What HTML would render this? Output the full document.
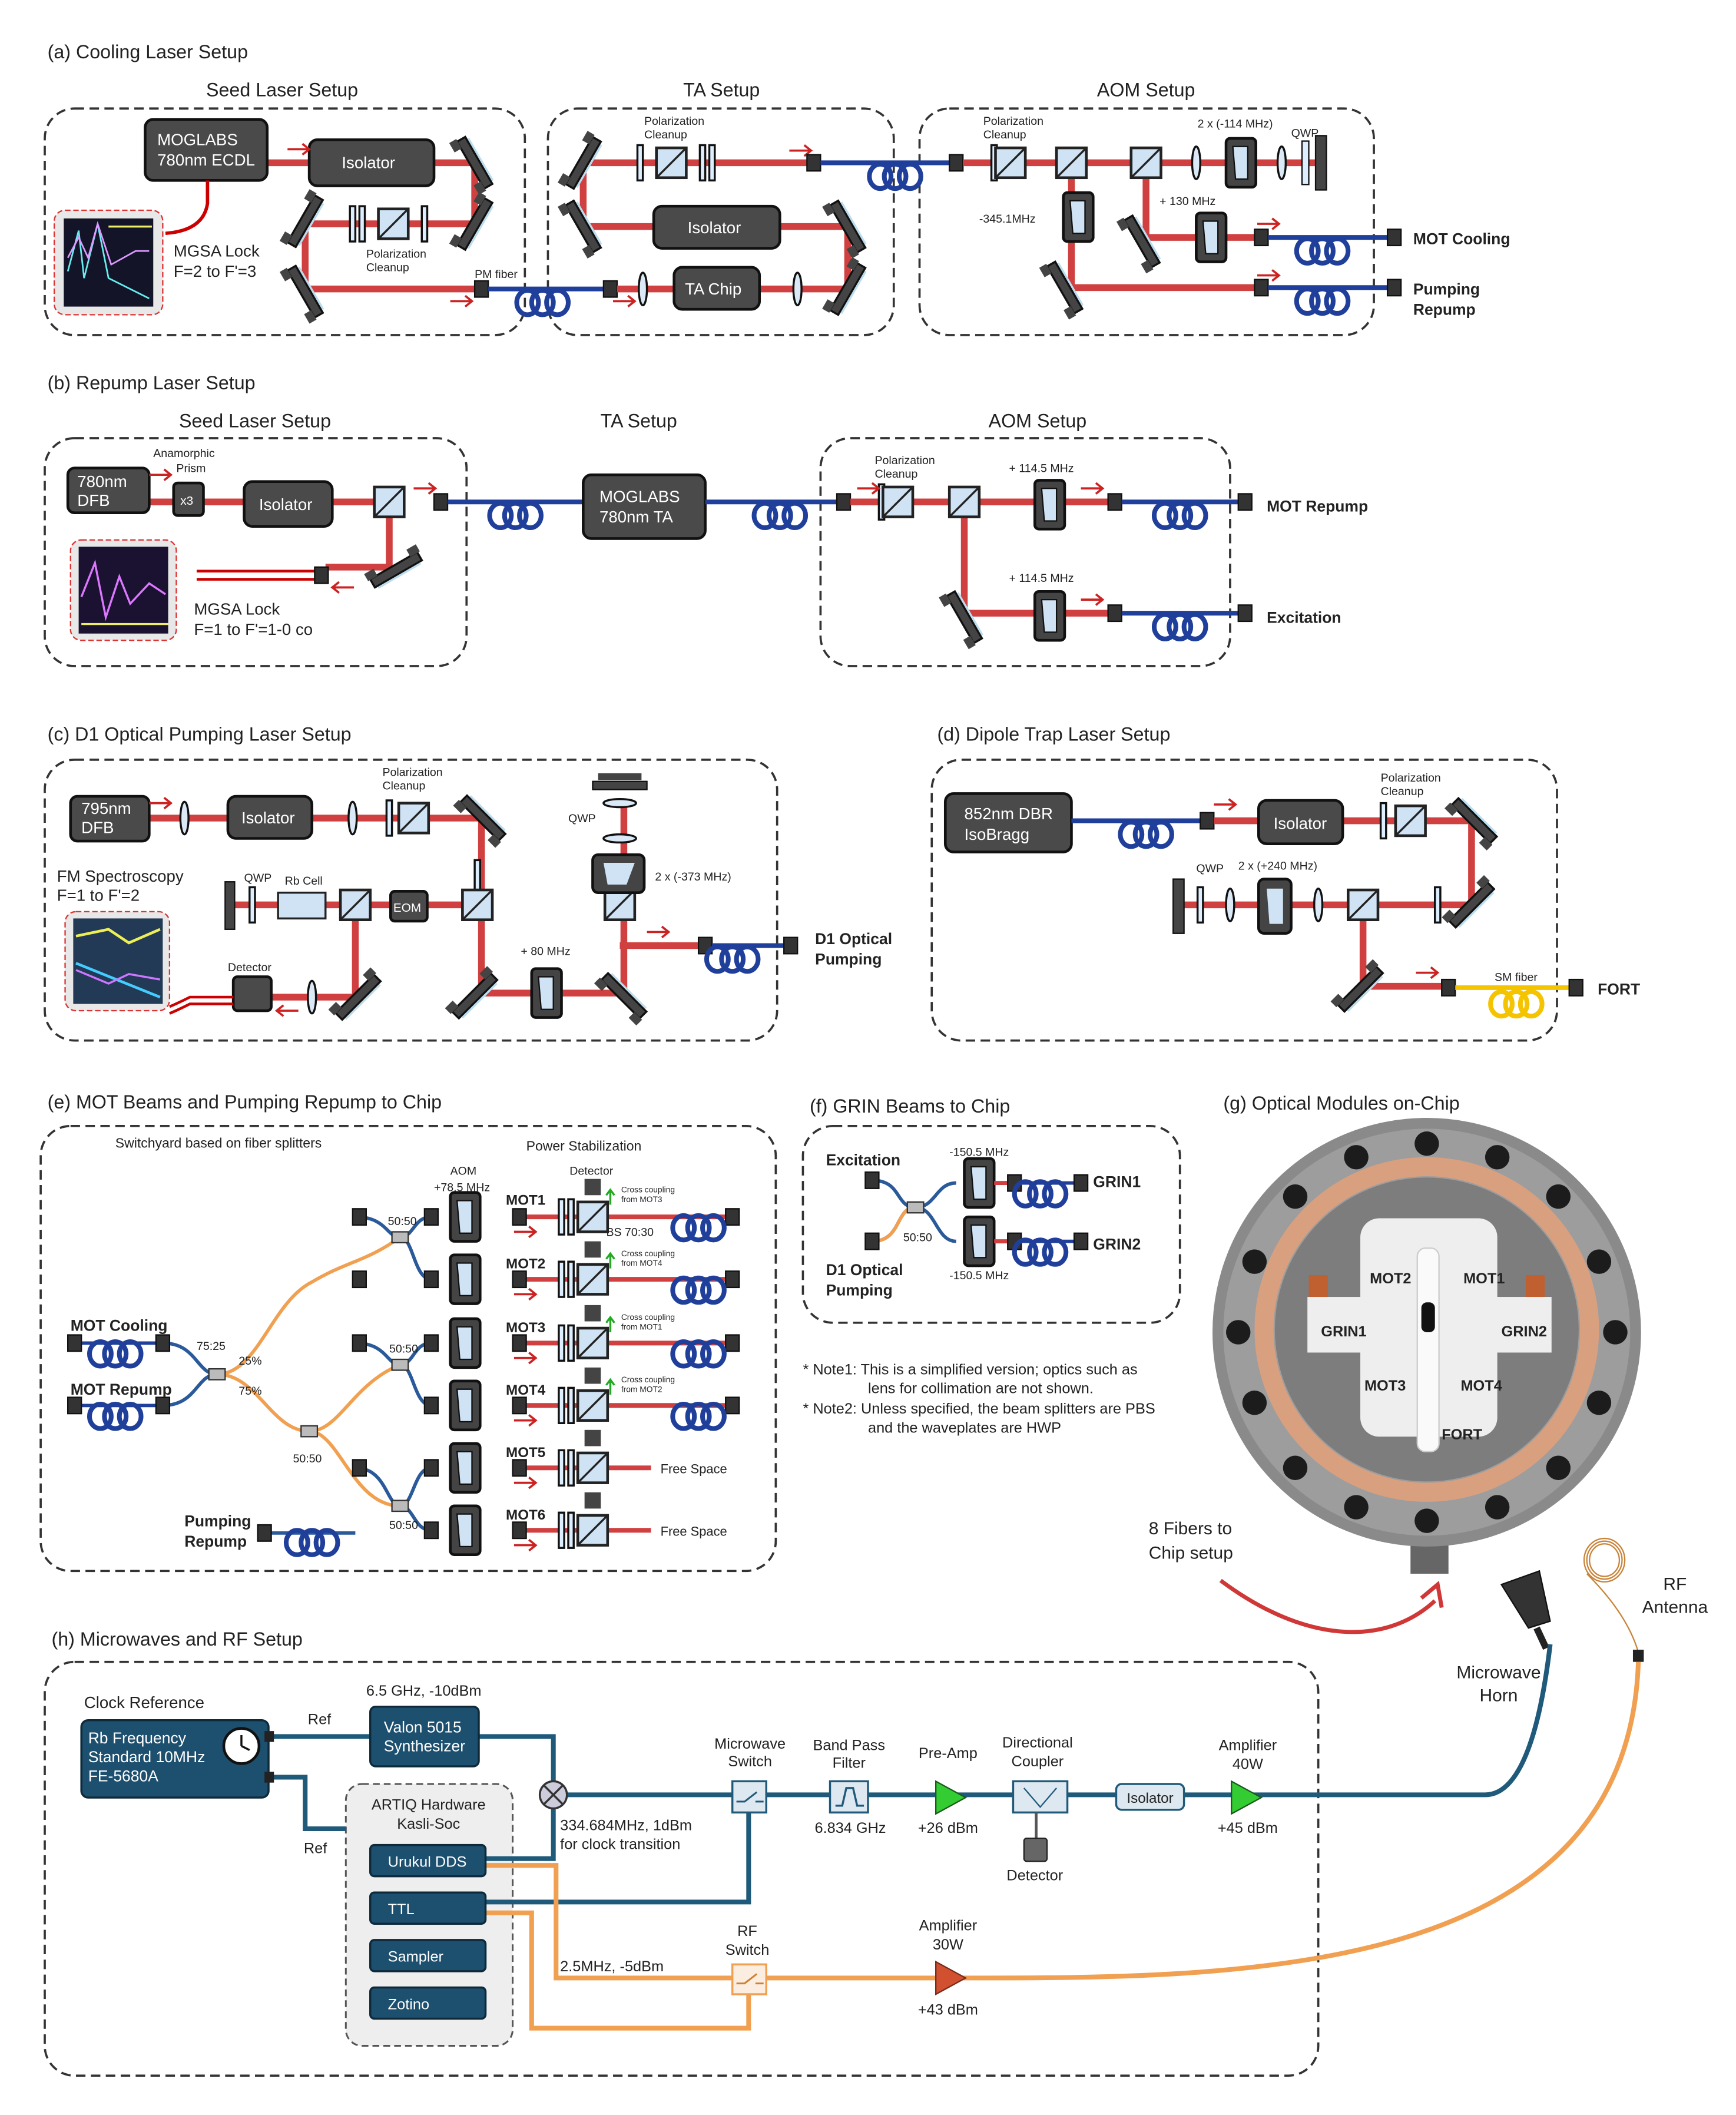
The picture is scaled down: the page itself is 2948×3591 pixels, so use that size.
<!DOCTYPE html>
<html><head><meta charset="utf-8"><style>
html,body{margin:0;padding:0;background:#fff}
svg{display:block}
text{font-family:"Liberation Sans",sans-serif;fill:#222}
.t{font-size:14px}.s{font-size:12px}.x{font-size:8.5px}.b{font-weight:bold;font-size:11.5px}
.w{fill:#fff;font-size:12px}
.box{fill:none;stroke:#333;stroke-width:1.6;stroke-dasharray:7 4}
.beam{fill:none;stroke:#d04040;stroke-width:5}
.fib{fill:none;stroke:#1f3f9a;stroke-width:3.5}
.dev{fill:#4a4a4a;stroke:#111;stroke-width:2}
.tl{fill:none;stroke:#1f5a7a;stroke-width:3.5}
.or{fill:none;stroke:#f0a050;stroke-width:3.5}
.tb{fill:#1d4f6e;stroke:#0e2a3a;stroke-width:1.5}
</style></head><body>
<svg width="2948" height="3591" viewBox="0 0 1280 1559" preserveAspectRatio="none" xmlns="http://www.w3.org/2000/svg">
<defs>
<g id="coil" fill="none" stroke="#1f3f9a" stroke-width="3.5"><ellipse cx="-11" cy="0" rx="8" ry="9"/><ellipse cx="0" cy="0" rx="8" ry="9"/><ellipse cx="11" cy="0" rx="8" ry="9"/></g>
<g id="ycoil" fill="none" stroke="#f5c400" stroke-width="3.5"><ellipse cx="-11" cy="0" rx="8" ry="9"/><ellipse cx="0" cy="0" rx="8" ry="9"/><ellipse cx="11" cy="0" rx="8" ry="9"/></g>
<g id="mir"><rect x="-3.5" y="-20" width="7" height="40" fill="#444" stroke="#111" stroke-width="1.5"/><rect x="-9" y="-22" width="6" height="8" fill="#444"/><rect x="-9" y="14" width="6" height="8" fill="#444"/><line x1="5" y1="-18" x2="5" y2="18" stroke="#bde" stroke-width="1.5"/></g>
<g id="con"><rect x="-5" y="-6" width="10" height="12" fill="#333" stroke="#111"/></g>
<g id="pbs"><rect x="-11" y="-11" width="22" height="22" fill="#cfe3f5" stroke="#222" stroke-width="2"/><line x1="-10" y1="10" x2="10" y2="-10" stroke="#222" stroke-width="1.5"/></g>
<g id="wp"><rect x="-2" y="-13" width="4" height="26" fill="#ddeeff" stroke="#111" stroke-width="1.5"/></g>
<g id="lens"><ellipse cx="0" cy="0" rx="3" ry="12" fill="#dbe9f6" stroke="#111" stroke-width="1.5"/></g>
<g id="aom"><rect x="-11" y="-18" width="22" height="36" rx="3" fill="#444" stroke="#111" stroke-width="2"/><path d="M-6,-12 L5,-12 L5,12 L-4,12 Z" fill="#cfe3f5" stroke="#111"/></g>
<g id="arr"><path d="M-8,0 H8 M3,-4 L8,0 L3,4" fill="none" stroke="#c22" stroke-width="1.6"/></g>
<g id="arl"><path d="M8,0 H-8 M-3,-4 L-8,0 L-3,4" fill="none" stroke="#c22" stroke-width="1.6"/></g>
<g id="spl"><rect x="-6" y="-4" width="12" height="8" fill="#bbb" stroke="#333"/></g>
</defs>

<!-- (a) -->
<text x="35" y="43" class="t">(a) Cooling Laser Setup</text>
<text x="208" y="71" class="t" text-anchor="middle">Seed Laser Setup</text>
<text x="532" y="71" class="t" text-anchor="middle">TA Setup</text>
<text x="845" y="71" class="t" text-anchor="middle">AOM Setup</text>
<rect x="33" y="80" width="354" height="167" rx="22" class="box"/>
<rect x="404" y="80" width="255" height="167" rx="22" class="box"/>
<rect x="678" y="80" width="335" height="167" rx="22" class="box"/>
<path class="beam" d="M197,120 H350 V165 H225 V213 H355"/>
<rect x="107" y="88" width="90" height="45" rx="6" class="dev"/>
<text x="116" y="107" class="w">MOGLABS</text><text x="116" y="122" class="w">780nm ECDL</text>
<rect x="228" y="103" width="92" height="34" rx="6" class="dev"/><text x="252" y="124" class="w">Isolator</text>
<use href="#mir" transform="translate(350,120) rotate(-30)"/><use href="#mir" transform="translate(350,165) rotate(30)"/>
<use href="#mir" transform="translate(225,163) rotate(30)"/><use href="#mir" transform="translate(225,215) rotate(-30)"/>
<use href="#wp" x="260" y="165"/><use href="#wp" x="267" y="165"/><use href="#pbs" x="290" y="165"/><use href="#wp" x="313" y="165"/>
<text x="270" y="190" class="x">Polarization</text><text x="270" y="200" class="x">Cleanup</text>
<path d="M153,133 V150 Q150,170 122,172" fill="none" stroke="#c00" stroke-width="2.5"/>
<rect x="40" y="155" width="80" height="77" rx="8" fill="#e8e8e8" stroke="#d33" stroke-dasharray="4 2"/>
<rect x="47" y="161" width="66" height="65" fill="#141428"/>
<path d="M50,200 L58,170 L62,205 L72,165 L80,205 L110,220" fill="none" stroke="#6ee" stroke-width="1.2"/>
<path d="M50,190 L58,175 L65,190 L72,165 L82,195 L100,185 L110,185" fill="none" stroke="#d9f" stroke-width="1.2"/>
<path d="M80,167 H112" stroke="#ee6" stroke-width="1.5"/>
<text x="128" y="189" class="s">MGSA Lock</text><text x="128" y="204" class="s">F=2 to F'=3</text>
<use href="#arr" x="220" y="110"/><use href="#arr" x="340" y="222"/>
<text x="350" y="205" class="x">PM fiber</text>
<use href="#con" x="355" y="213"/><path class="fib" d="M360,213 H447"/><use href="#coil" x="400" y="223"/><use href="#con" x="450" y="213"/>
<path class="beam" d="M455,213 H625 V167 H430 V120 H597"/>
<rect x="497" y="197" width="63" height="31" rx="6" class="dev"/><text x="505" y="217" class="w">TA Chip</text>
<rect x="482" y="152" width="93" height="31" rx="6" class="dev"/><text x="507" y="172" class="w">Isolator</text>
<use href="#lens" x="474" y="213"/><use href="#lens" x="588" y="213"/><use href="#arr" x="460" y="222"/>
<use href="#mir" transform="translate(430,120) rotate(30)"/><use href="#mir" transform="translate(430,167) rotate(-30)"/>
<use href="#mir" transform="translate(625,167) rotate(-30)"/><use href="#mir" transform="translate(625,213) rotate(30)"/>
<use href="#wp" x="472" y="120"/><use href="#pbs" x="495" y="120"/><use href="#wp" x="518" y="120"/><use href="#wp" x="525" y="120"/>
<text x="475" y="92" class="x">Polarization</text><text x="475" y="102" class="x">Cleanup</text>
<use href="#arr" x="590" y="111"/>
<use href="#con" x="600" y="120"/><path class="fib" d="M605,120 H700"/><use href="#coil" x="660" y="130"/><use href="#con" x="705" y="120"/>
<path class="beam" d="M710,120 H975 M790,120 V212 H930 M845,120 V175 H930"/>
<use href="#wp" x="733" y="120"/><use href="#pbs" x="745" y="120"/><use href="#pbs" x="790" y="120"/><use href="#pbs" x="845" y="120"/>
<use href="#lens" x="882" y="120"/><use href="#aom" x="915" y="120"/><use href="#lens" x="945" y="120"/>
<rect x="960" y="104" width="5" height="32" fill="#ddeeff" stroke="#111"/><rect x="970" y="100" width="8" height="40" fill="#444" stroke="#111"/>
<text x="725" y="92" class="x">Polarization</text><text x="725" y="102" class="x">Cleanup</text>
<text x="883" y="94" class="x">2 x (-114 MHz)</text><text x="952" y="101" class="x">QWP</text>
<use href="#aom" x="795" y="160"/><text x="722" y="164" class="x">-345.1MHz</text>
<use href="#aom" x="893" y="175"/><text x="855" y="151" class="x">+ 130 MHz</text>
<use href="#mir" transform="translate(842,178) rotate(-30)"/><use href="#mir" transform="translate(785,212) rotate(-30)"/>
<use href="#arr" x="935" y="165"/><use href="#arr" x="935" y="203"/>
<use href="#con" x="930" y="175"/><use href="#con" x="930" y="212"/>
<path class="fib" d="M935,175 H1025 M935,212 H1025"/><use href="#coil" x="975" y="185"/><use href="#coil" x="975" y="222"/>
<use href="#con" x="1028" y="175"/><use href="#con" x="1028" y="212"/>
<text x="1042" y="180" class="b">MOT Cooling</text><text x="1042" y="217" class="b">Pumping</text><text x="1042" y="232" class="b">Repump</text>

<!-- (b) -->
<text x="35" y="287" class="t">(b) Repump Laser Setup</text>
<text x="188" y="315" class="t" text-anchor="middle">Seed Laser Setup</text>
<text x="471" y="315" class="t" text-anchor="middle">TA Setup</text>
<text x="765" y="315" class="t" text-anchor="middle">AOM Setup</text>
<rect x="33" y="323" width="311" height="168" rx="22" class="box"/>
<rect x="605" y="323" width="302" height="168" rx="22" class="box"/>
<path class="beam" d="M110,370 H287 V418 H240"/>
<path d="M145,421 H232 M145,427 H232" stroke="#c00" stroke-width="2"/>
<rect x="50" y="345" width="60" height="33" rx="5" class="dev"/><text x="57" y="359" class="w">780nm</text><text x="57" y="373" class="w">DFB</text>
<rect x="128" y="356" width="22" height="24" rx="3" class="dev"/><text x="133" y="372" class="w" style="font-size:9px">x3</text>
<text x="113" y="337" class="x">Anamorphic</text><text x="130" y="348" class="x">Prism</text>
<rect x="180" y="355" width="65" height="33" rx="6" class="dev"/><text x="191" y="376" class="w">Isolator</text>
<use href="#pbs" x="287" y="370"/><use href="#mir" transform="translate(292,420) rotate(60)"/>
<use href="#con" x="237" y="424"/><use href="#arl" x="253" y="433"/><use href="#arr" x="118" y="350"/><use href="#arr" x="313" y="360"/>
<rect x="52" y="398" width="78" height="74" rx="8" fill="#e8e8e8" stroke="#d33" stroke-dasharray="4 2"/>
<rect x="58" y="403" width="66" height="64" fill="#1a1230"/>
<path d="M60,440 L70,415 L78,455 L88,425 L96,445 L110,430 L122,438" fill="none" stroke="#d7f" stroke-width="1.5"/>
<path d="M60,460 H124" stroke="#ee6" stroke-width="1.5"/>
<text x="143" y="453" class="s">MGSA Lock</text><text x="143" y="468" class="s">F=1 to F'=1-0 co</text>
<use href="#con" x="325" y="370"/><path class="fib" d="M330,370 H430"/><use href="#coil" x="380" y="380"/>
<rect x="430" y="350" width="90" height="47" rx="6" class="dev"/><text x="442" y="370" class="w">MOGLABS</text><text x="442" y="385" class="w">780nm TA</text>
<path class="fib" d="M520,370 H618"/><use href="#coil" x="575" y="380"/><use href="#con" x="622" y="370"/>
<path class="beam" d="M627,370 H820 M711,370 V452 H820"/>
<use href="#wp" x="650" y="370"/><use href="#pbs" x="662" y="370"/><use href="#pbs" x="711" y="370"/>
<text x="645" y="342" class="x">Polarization</text><text x="645" y="352" class="x">Cleanup</text>
<use href="#aom" x="774" y="372"/><use href="#aom" x="774" y="454"/>
<text x="744" y="348" class="x">+ 114.5 MHz</text><text x="744" y="429" class="x">+ 114.5 MHz</text>
<use href="#mir" transform="translate(711,455) rotate(-30)"/>
<use href="#arr" x="640" y="360"/><use href="#arr" x="805" y="360"/><use href="#arr" x="805" y="442"/>
<use href="#con" x="822" y="370"/><use href="#con" x="822" y="452"/>
<path class="fib" d="M827,370 H915 M827,452 H915"/><use href="#coil" x="870" y="380"/><use href="#coil" x="870" y="462"/>
<use href="#con" x="918" y="370"/><use href="#con" x="918" y="452"/>
<text x="934" y="377" class="b">MOT Repump</text><text x="934" y="459" class="b">Excitation</text>

<!-- (c) -->
<text x="35" y="546" class="t">(c) D1 Optical Pumping Laser Setup</text>
<rect x="33" y="560" width="540" height="207" rx="22" class="box"/>
<path class="beam" d="M110,603 H355 V732 H460 V590 M457,697 H520 M352,667 H168 M262,667 V735 H200"/>
<rect x="52" y="587" width="58" height="33" rx="5" class="dev"/><text x="60" y="600" class="w">795nm</text><text x="60" y="614" class="w">DFB</text>
<use href="#lens" x="136" y="603"/><rect x="168" y="587" width="62" height="31" rx="6" class="dev"/><text x="178" y="607" class="w">Isolator</text>
<use href="#lens" x="260" y="603"/><use href="#wp" x="287" y="603"/><use href="#pbs" x="305" y="603"/>
<text x="282" y="572" class="x">Polarization</text><text x="282" y="582" class="x">Cleanup</text>
<use href="#mir" transform="translate(356,603) rotate(-45)"/><use href="#wp" x="352" y="647"/><use href="#pbs" x="352" y="667"/>
<use href="#mir" transform="translate(350,734) rotate(45)"/><use href="#aom" x="403" y="732"/><text x="384" y="704" class="x">+ 80 MHz</text>
<use href="#mir" transform="translate(460,734) rotate(-45)"/><use href="#pbs" x="457" y="667"/>
<rect x="437" y="630" width="38" height="28" rx="4" fill="#444" stroke="#111" stroke-width="2"/><path d="M445,636 H468 L462,652 H448 Z" fill="#cfe3f5"/>
<text x="483" y="649" class="x">2 x (-373 MHz)</text>
<ellipse cx="457" cy="618" rx="12" ry="3" fill="#dbe9f6" stroke="#111" stroke-width="1.5"/>
<ellipse cx="457" cy="592" rx="12" ry="3" fill="#dbe9f6" stroke="#111" stroke-width="1.5"/>
<rect x="437" y="576" width="40" height="6" fill="#444" stroke="#111"/><rect x="441" y="570" width="32" height="5" fill="#444"/>
<text x="419" y="606" class="x">QWP</text>
<use href="#arr" x="485" y="687"/><use href="#con" x="520" y="697"/><path class="fib" d="M525,697 H580"/><use href="#coil" x="540" y="707"/><use href="#con" x="583" y="697"/>
<text x="601" y="696" class="b">D1 Optical</text><text x="601" y="711" class="b">Pumping</text>
<rect x="288" y="657" width="27" height="22" rx="3" class="dev"/><text x="290" y="672" class="w" style="font-size:9px">EOM</text>
<use href="#pbs" x="262" y="667"/><rect x="205" y="658" width="35" height="19" fill="#cfe3f5" stroke="#222" stroke-width="1.5"/>
<use href="#wp" x="186" y="667"/><rect x="166" y="650" width="7" height="35" fill="#444" stroke="#111"/>
<text x="210" y="652" class="x">Rb Cell</text><text x="180" y="650" class="x">QWP</text>
<use href="#mir" transform="translate(264,735) rotate(45)"/><use href="#lens" x="230" y="735"/>
<rect x="172" y="720" width="28" height="25" rx="3" class="dev"/><text x="168" y="716" class="x">Detector</text><use href="#arl" x="212" y="745"/>
<path d="M172,735 H140 Q130,740 125,742 M172,740 H140 Q130,745 125,747" fill="none" stroke="#c00" stroke-width="2"/>
<text x="42" y="650" class="s">FM Spectroscopy</text><text x="42" y="664" class="s">F=1 to F'=2</text>
<rect x="48" y="672" width="77" height="73" rx="8" fill="#e8e8e8" stroke="#d33" stroke-dasharray="4 2"/>
<rect x="54" y="677" width="66" height="63" fill="#223a55"/>
<path d="M56,690 L80,685 L95,695 L118,685" fill="none" stroke="#ee5" stroke-width="2"/>
<path d="M56,710 L118,735" stroke="#4cf" stroke-width="2"/><path d="M56,715 L80,725 L95,718 L118,722" fill="none" stroke="#c7f" stroke-width="1.5"/>
<use href="#arr" x="118" y="592"/>

<!-- (d) -->
<text x="691" y="546" class="t">(d) Dipole Trap Laser Setup</text>
<rect x="687" y="560" width="461" height="207" rx="22" class="box"/>
<rect x="697" y="585" width="93" height="43" rx="6" class="dev"/><text x="711" y="604" class="w">852nm DBR</text><text x="711" y="619" class="w">IsoBragg</text>
<path class="fib" d="M790,605 H887"/><use href="#coil" x="845" y="615"/><use href="#con" x="890" y="605"/>
<path class="beam" d="M895,605 H1085 V667 H870 M1005,667 V727 H1065"/>
<rect x="928" y="590" width="62" height="32" rx="6" class="dev"/><text x="939" y="611" class="w">Isolator</text>
<use href="#arr" x="903" y="593"/><use href="#wp" x="1020" y="605"/><use href="#pbs" x="1040" y="605"/>
<text x="1018" y="576" class="x">Polarization</text><text x="1018" y="586" class="x">Cleanup</text>
<use href="#mir" transform="translate(1087,605) rotate(-45)"/><use href="#mir" transform="translate(1085,667) rotate(45)"/>
<use href="#wp" x="1060" y="667"/><use href="#pbs" x="1005" y="667"/><use href="#lens" x="972" y="667"/>
<rect x="928" y="648" width="24" height="40" rx="4" fill="#444" stroke="#111" stroke-width="2"/><path d="M934,655 H946 V681 H936 Z" fill="#cfe3f5"/>
<use href="#lens" x="907" y="667"/><use href="#wp" x="885" y="667"/><rect x="865" y="648" width="8" height="40" fill="#444" stroke="#111"/>
<text x="882" y="643" class="x">QWP</text><text x="913" y="641" class="x">2 x (+240 MHz)</text>
<use href="#mir" transform="translate(1003,729) rotate(45)"/><use href="#arr" x="1052" y="717"/>
<use href="#con" x="1068" y="728"/><path d="M1073,728 H1160" fill="none" stroke="#f5c400" stroke-width="3.5"/><use href="#ycoil" x="1118" y="740"/><use href="#con" x="1162" y="728"/>
<text x="1102" y="723" class="x">SM fiber</text><text x="1178" y="733" class="b">FORT</text>

<!-- (e) -->
<text x="35" y="817" class="t">(e) MOT Beams and Pumping Repump to Chip</text>
<rect x="30" y="830" width="542" height="328" rx="22" class="box"/>
<text x="85" y="846" class="x" style="font-size:10px">Switchyard based on fiber splitters</text>
<text x="388" y="848" class="x" style="font-size:10px">Power Stabilization</text>
<text x="332" y="866" class="x">AOM</text><text x="320" y="878" class="x">+78.5 MHz</text><text x="420" y="866" class="x">Detector</text>
<g>
<path class="beam" d="M388,897 H545 M388,943 H545 M388,990 H545 M388,1036 H545 M388,1082 H545 M388,1128 H545" style="stroke-width:3.5"/>
</g>
<g id="rowS">
<use href="#aom" x="343" y="897"/><use href="#con" x="383" y="897"/><use href="#wp" x="414" y="897"/><use href="#wp" x="421" y="897"/><use href="#pbs" x="437" y="897"/><rect x="431" y="869" width="12" height="12" fill="#444"/><use href="#arr" x="387" y="908"/>
<use href="#con" x="540" y="897"/><use href="#coil" x="515" y="905"/>
</g>
<use href="#rowS" y="46"/><use href="#rowS" y="93"/><use href="#rowS" y="139"/>
<use href="#aom" x="343" y="1082"/><use href="#con" x="383" y="1082"/><use href="#wp" x="414" y="1082"/><use href="#wp" x="421" y="1082"/><use href="#pbs" x="437" y="1082"/><rect x="431" y="1054" width="12" height="12" fill="#444"/><use href="#arr" x="387" y="1093"/>
<use href="#aom" x="343" y="1128"/><use href="#con" x="383" y="1128"/><use href="#wp" x="414" y="1128"/><use href="#wp" x="421" y="1128"/><use href="#pbs" x="437" y="1128"/><rect x="431" y="1100" width="12" height="12" fill="#444"/><use href="#arr" x="387" y="1139"/>
<rect x="480" y="1070" width="70" height="20" fill="#fff"/><rect x="480" y="1116" width="70" height="20" fill="#fff"/>
<text x="487" y="1086" class="x" style="font-size:9.5px">Free Space</text><text x="487" y="1132" class="x" style="font-size:9.5px">Free Space</text>
<text x="373" y="888" class="b" style="font-size:10.5px">MOT1</text><text x="373" y="935" class="b" style="font-size:10.5px">MOT2</text>
<text x="373" y="982" class="b" style="font-size:10.5px">MOT3</text><text x="373" y="1028" class="b" style="font-size:10.5px">MOT4</text>
<text x="373" y="1074" class="b" style="font-size:10.5px">MOT5</text><text x="373" y="1120" class="b" style="font-size:10.5px">MOT6</text>
<g style="font-size:6px"><text x="458" y="879" style="font-size:6px">Cross coupling</text><text x="458" y="886" style="font-size:6px">from MOT3</text>
<text x="458" y="926" style="font-size:6px">Cross coupling</text><text x="458" y="933" style="font-size:6px">from MOT4</text>
<text x="458" y="973" style="font-size:6px">Cross coupling</text><text x="458" y="980" style="font-size:6px">from MOT1</text>
<text x="458" y="1019" style="font-size:6px">Cross coupling</text><text x="458" y="1026" style="font-size:6px">from MOT2</text></g>
<path d="M450,888 V878 M447,881 L450,877 L453,881 M450,935 V925 M447,928 L450,924 L453,928 M450,982 V972 M447,975 L450,971 L453,975 M450,1028 V1018 M447,1021 L450,1017 L453,1021" stroke="#2a2" fill="none" stroke-width="1.5"/>
<text x="447" y="911" class="x">BS 70:30</text>
<!-- fibers -->
<path class="fib" d="M262,897 C285,897 285,912 295,912 M295,912 C305,912 305,897 318,897 M295,912 C305,912 305,943 318,943" style="stroke:#2a5a9a;stroke-width:2.5"/>
<path class="fib" d="M262,990 C285,990 285,1006 295,1006 M295,1006 C305,1006 305,990 318,990 M295,1006 C305,1006 305,1036 318,1036" style="stroke:#2a5a9a;stroke-width:2.5"/>
<path class="fib" d="M262,1082 C285,1082 285,1110 295,1110 M295,1110 C305,1110 305,1082 318,1082 M295,1110 C305,1110 305,1128 318,1128 M195,1130 H262" style="stroke:#2a5a9a;stroke-width:2.5"/>
<path class="fib" d="M120,990 C145,990 145,1013 160,1013 M120,1036 C145,1036 145,1013 160,1013" style="stroke:#2a5a9a;stroke-width:2.5"/>
<path class="or" style="stroke-width:2.5" d="M160,1013 C190,1013 200,960 230,945 C255,930 270,930 295,912 M160,1013 C190,1013 200,1055 228,1055 M228,1055 C250,1055 260,1020 295,1006 M228,1055 C250,1055 260,1110 295,1110"/>
<use href="#spl" x="295" y="912"/><use href="#spl" x="295" y="1006"/><use href="#spl" x="295" y="1110"/><use href="#spl" x="160" y="1013"/><use href="#spl" x="228" y="1055"/>
<use href="#con" x="265" y="897"/><use href="#con" x="265" y="990"/><use href="#con" x="265" y="1082"/><use href="#con" x="265" y="943"/>
<use href="#con" x="318" y="897"/><use href="#con" x="318" y="943"/><use href="#con" x="318" y="990"/><use href="#con" x="318" y="1036"/><use href="#con" x="318" y="1082"/><use href="#con" x="318" y="1128"/>
<text x="286" y="903" class="x">50:50</text><text x="287" y="997" class="x">50:50</text><text x="287" y="1127" class="x">50:50</text><text x="216" y="1078" class="x">50:50</text>
<text x="145" y="995" class="x">75:25</text><text x="176" y="1006" class="x">25%</text><text x="176" y="1028" class="x">75%</text>
<text x="52" y="981" class="b">MOT Cooling</text><text x="52" y="1028" class="b">MOT Repump</text>
<path class="fib" d="M55,990 H120 M55,1036 H120" style="stroke-width:2.5"/><use href="#coil" x="85" y="998"/><use href="#coil" x="85" y="1044"/>
<use href="#con" x="55" y="990"/><use href="#con" x="55" y="1036"/><use href="#con" x="120" y="990"/><use href="#con" x="120" y="1036"/>
<text x="136" y="1125" class="b">Pumping</text><text x="136" y="1140" class="b">Repump</text>
<use href="#coil" x="230" y="1137"/><use href="#con" x="195" y="1130"/>

<!-- (f) -->
<text x="597" y="820" class="t">(f) GRIN Beams to Chip</text>
<rect x="592" y="830" width="278" height="145" rx="22" class="box"/>
<text x="609" y="859" class="b">Excitation</text><text x="609" y="940" class="b">D1 Optical</text><text x="609" y="955" class="b">Pumping</text>
<path d="M643,870 C665,870 660,890 675,890 M643,915 C665,915 660,890 675,890" fill="none" stroke="#2a5a9a" stroke-width="2.5"/>
<path d="M643,915 C665,915 660,890 675,890" fill="none" stroke="#f0a050" stroke-width="2.5"/>
<path d="M675,890 C690,890 690,872 705,872 M675,890 C690,890 690,915 705,915" fill="none" stroke="#2a5a9a" stroke-width="2.5"/>
<use href="#spl" x="675" y="890"/><use href="#con" x="643" y="870"/><use href="#con" x="643" y="915"/>
<text x="666" y="915" class="x">50:50</text>
<use href="#aom" x="722" y="872"/><use href="#aom" x="722" y="915"/>
<path class="beam" d="M733,872 H745 M733,915 H745" style="stroke-width:3"/>
<use href="#con" x="748" y="872"/><use href="#con" x="748" y="915"/>
<path class="fib" d="M753,872 H795 M753,915 H795" style="stroke-width:2.5"/><use href="#coil" x="767" y="880"/><use href="#coil" x="767" y="923"/>
<use href="#con" x="797" y="872"/><use href="#con" x="797" y="915"/>
<text x="700" y="852" class="x">-150.5 MHz</text><text x="700" y="943" class="x">-150.5 MHz</text>
<text x="806" y="875" class="b">GRIN1</text><text x="806" y="921" class="b">GRIN2</text>
<text x="592" y="1013" class="s" style="font-size:11px">* Note1: This is a simplified version; optics such as</text>
<text x="640" y="1027" class="s" style="font-size:11px">lens for collimation are not shown.</text>
<text x="592" y="1042" class="s" style="font-size:11px">* Note2: Unless specified, the beam splitters are PBS</text>
<text x="640" y="1056" class="s" style="font-size:11px">and the waveplates are HWP</text>

<!-- (g) -->
<text x="902" y="818" class="t">(g) Optical Modules on-Chip</text>
<rect x="1040" y="1120" width="28" height="40" fill="#666"/>
<circle cx="1052" cy="982" r="158" fill="#8a8a8a"/>
<circle cx="1052" cy="982" r="150" fill="#9d9d9d"/>
<g fill="#1c1c1c">
<circle cx="1052" cy="843" r="9"/><circle cx="1052" cy="1121" r="9"/><circle cx="913" cy="982" r="9"/><circle cx="1191" cy="982" r="9"/>
<circle cx="1000" cy="853" r="9"/><circle cx="1104" cy="853" r="9"/><circle cx="1000" cy="1111" r="9"/><circle cx="1104" cy="1111" r="9"/>
<circle cx="955" cy="882" r="9"/><circle cx="1149" cy="882" r="9"/><circle cx="955" cy="1082" r="9"/><circle cx="1149" cy="1082" r="9"/>
<circle cx="925" cy="930" r="9"/><circle cx="1179" cy="930" r="9"/><circle cx="925" cy="1034" r="9"/><circle cx="1179" cy="1034" r="9"/>
</g>
<circle cx="1052" cy="980" r="120" fill="none" stroke="#d9a080" stroke-width="14"/>
<circle cx="1052" cy="980" r="112" fill="#7d7d7d"/>
<rect x="965" y="940" width="14" height="55" fill="#c06030"/><rect x="1125" y="940" width="14" height="55" fill="#c06030"/>
<rect x="1003" y="898" width="101" height="161" rx="14" fill="#eee"/>
<rect x="964" y="956" width="180" height="41" fill="#eee"/>
<rect x="1045" y="920" width="16" height="150" rx="6" fill="#fafafa" stroke="#ccc"/>
<rect x="1048" y="960" width="10" height="22" rx="4" fill="#111"/>
<g font-weight="bold" font-size="11px"><text x="1010" y="946">MOT2</text><text x="1079" y="946">MOT1</text><text x="974" y="985">GRIN1</text><text x="1107" y="985">GRIN2</text>
<text x="1006" y="1025">MOT3</text><text x="1077" y="1025">MOT4</text><text x="1063" y="1061">FORT</text></g>
<text x="847" y="1131" class="s" style="font-size:13px">8 Fibers to</text><text x="847" y="1149" class="s" style="font-size:13px">Chip setup</text>
<path d="M900,1165 C960,1210 1020,1215 1058,1180" fill="none" stroke="#d03838" stroke-width="3"/>
<path d="M1048,1178 L1060,1168 L1063,1185" fill="none" stroke="#d03838" stroke-width="3"/>
<path d="M1107,1168 L1135,1158 L1143,1195 L1127,1200 Z" fill="#333" stroke="#111"/>
<path d="M1133,1200 L1140,1215" stroke="#222" stroke-width="5"/>
<g fill="none" stroke="#c8843a" stroke-width="1"><ellipse cx="1183" cy="1150" rx="15" ry="16"/><ellipse cx="1183" cy="1150" rx="13" ry="14"/><ellipse cx="1183" cy="1150" rx="11" ry="12"/><path d="M1170,1160 Q1200,1190 1208,1218"/></g>
<rect x="1204" y="1216" width="8" height="9" fill="#222"/>
<text x="1235" y="1172" class="s" style="font-size:13px" text-anchor="middle">RF</text><text x="1235" y="1189" class="s" style="font-size:13px" text-anchor="middle">Antenna</text>
<text x="1105" y="1237" class="s" style="font-size:13px" text-anchor="middle">Microwave</text><text x="1105" y="1254" class="s" style="font-size:13px" text-anchor="middle">Horn</text>

<!-- (h) -->
<text x="38" y="1213" class="t">(h) Microwaves and RF Setup</text>
<rect x="33" y="1225" width="939" height="305" rx="22" class="box"/>
<rect x="255" y="1315" width="123" height="193" rx="12" fill="#eee" stroke="#555" stroke-dasharray="5 3" stroke-width="1.3"/>
<path class="tl" d="M198,1280 H273 M198,1310 H225 V1348 H255 M353,1280 H408 V1313 M358,1370 H408 V1333 M418,1323 H1095 C1120,1323 1135,1280 1143,1212 M358,1402 H552 V1336"/>
<path class="or" d="M358,1375 H410 V1458 H690 C900,1458 1200,1465 1208,1225 M358,1410 H392 V1495 H552 V1470"/>
<text x="62" y="1259" class="s">Clock Reference</text>
<rect x="60" y="1268" width="138" height="57" rx="5" class="tb"/>
<text x="65" y="1285" class="w" style="font-size:11.5px">Rb Frequency</text><text x="65" y="1299" class="w" style="font-size:11.5px">Standard 10MHz</text><text x="65" y="1313" class="w" style="font-size:11.5px">FE-5680A</text>
<circle cx="178" cy="1287" r="13" fill="#fff" stroke="#111" stroke-width="2"/><path d="M178,1287 V1279 M178,1287 L184,1290" stroke="#111" stroke-width="1.5"/>
<rect x="195" y="1276" width="7" height="8" fill="#222"/><rect x="195" y="1306" width="7" height="8" fill="#222"/>
<text x="270" y="1250" class="s" style="font-size:11px">6.5 GHz, -10dBm</text>
<text x="227" y="1271" class="s" style="font-size:11px">Ref</text><text x="224" y="1366" class="s" style="font-size:11px">Ref</text>
<rect x="273" y="1258" width="80" height="44" rx="4" class="tb"/><text x="283" y="1277" class="w" style="font-size:11.5px">Valon 5015</text><text x="283" y="1291" class="w" style="font-size:11.5px">Synthesizer</text>
<text x="316" y="1334" class="s" style="font-size:11px" text-anchor="middle">ARTIQ Hardware</text><text x="316" y="1348" class="s" style="font-size:11px" text-anchor="middle">Kasli-Soc</text>
<rect x="273" y="1360" width="85" height="23" rx="3" class="tb"/><text x="286" y="1376" class="w" style="font-size:11px">Urukul DDS</text>
<rect x="273" y="1395" width="85" height="23" rx="3" class="tb"/><text x="286" y="1411" class="w" style="font-size:11px">TTL</text>
<rect x="273" y="1430" width="85" height="23" rx="3" class="tb"/><text x="286" y="1446" class="w" style="font-size:11px">Sampler</text>
<rect x="273" y="1465" width="85" height="23" rx="3" class="tb"/><text x="286" y="1481" class="w" style="font-size:11px">Zotino</text>
<circle cx="408" cy="1323" r="10" fill="#ccd" stroke="#333" stroke-width="1.5"/><path d="M401,1316 L415,1330 M415,1316 L401,1330" stroke="#333" stroke-width="1.5"/>
<text x="413" y="1349" class="s" style="font-size:11px">334.684MHz, 1dBm</text><text x="413" y="1363" class="s" style="font-size:11px">for clock transition</text>
<text x="413" y="1453" class="s" style="font-size:11px">2.5MHz, -5dBm</text>
<rect x="540" y="1313" width="25" height="23" fill="#dde8f0" stroke="#1f5a7a" stroke-width="1.5"/><path d="M543,1328 H549 L558,1321 M557,1328 H563" stroke="#1f5a7a" fill="none" stroke-width="1.3"/>
<text x="553" y="1289" class="s" style="font-size:11px" text-anchor="middle">Microwave</text><text x="553" y="1302" class="s" style="font-size:11px" text-anchor="middle">Switch</text>
<rect x="612" y="1313" width="28" height="23" fill="#dde8f0" stroke="#1f5a7a" stroke-width="1.5"/><path d="M616,1331 H621 L624,1318 H629 L632,1331 H637" stroke="#1f5a7a" fill="none" stroke-width="1.5"/>
<text x="626" y="1290" class="s" style="font-size:11px" text-anchor="middle">Band Pass</text><text x="626" y="1303" class="s" style="font-size:11px" text-anchor="middle">Filter</text>
<text x="627" y="1351" class="s" style="font-size:11px" text-anchor="middle">6.834 GHz</text>
<path d="M690,1313 L712,1325 L690,1337 Z" fill="#3c3" stroke="#1a5a1a"/>
<text x="699" y="1296" class="s" style="font-size:11px" text-anchor="middle">Pre-Amp</text><text x="699" y="1351" class="s" style="font-size:11px" text-anchor="middle">+26 dBm</text>
<rect x="747" y="1313" width="40" height="23" fill="#dde8f0" stroke="#1f5a7a" stroke-width="1.5"/><path d="M755,1318 L767,1332 L779,1318" stroke="#1f5a7a" fill="none"/>
<path d="M764,1336 V1355" stroke="#555" stroke-width="2"/><rect x="755" y="1355" width="17" height="17" rx="2" fill="#666" stroke="#222"/>
<text x="765" y="1288" class="s" style="font-size:11px" text-anchor="middle">Directional</text><text x="765" y="1302" class="s" style="font-size:11px" text-anchor="middle">Coupler</text>
<text x="763" y="1386" class="s" style="font-size:11px" text-anchor="middle">Detector</text>
<rect x="823" y="1315" width="50" height="19" rx="4" fill="#dde8f0" stroke="#1f5a7a" stroke-width="1.5"/><text x="848" y="1329" class="s" style="font-size:10.5px" text-anchor="middle">Isolator</text>
<path d="M908,1313 L930,1325 L908,1337 Z" fill="#3c3" stroke="#1a5a1a"/>
<text x="920" y="1290" class="s" style="font-size:11px" text-anchor="middle">Amplifier</text><text x="920" y="1304" class="s" style="font-size:11px" text-anchor="middle">40W</text>
<text x="920" y="1351" class="s" style="font-size:11px" text-anchor="middle">+45 dBm</text>
<rect x="540" y="1448" width="25" height="22" fill="#fbeee0" stroke="#f0a050" stroke-width="1.5"/><path d="M543,1462 H549 L558,1455 M557,1462 H563" stroke="#d08030" fill="none" stroke-width="1.3"/>
<text x="551" y="1427" class="s" style="font-size:11px" text-anchor="middle">RF</text><text x="551" y="1441" class="s" style="font-size:11px" text-anchor="middle">Switch</text>
<path d="M690,1446 L712,1458 L690,1470 Z" fill="#d05030" stroke="#7a2a1a"/>
<text x="699" y="1423" class="s" style="font-size:11px" text-anchor="middle">Amplifier</text><text x="699" y="1437" class="s" style="font-size:11px" text-anchor="middle">30W</text>
<text x="699" y="1485" class="s" style="font-size:11px" text-anchor="middle">+43 dBm</text>
</svg>
</body></html>
